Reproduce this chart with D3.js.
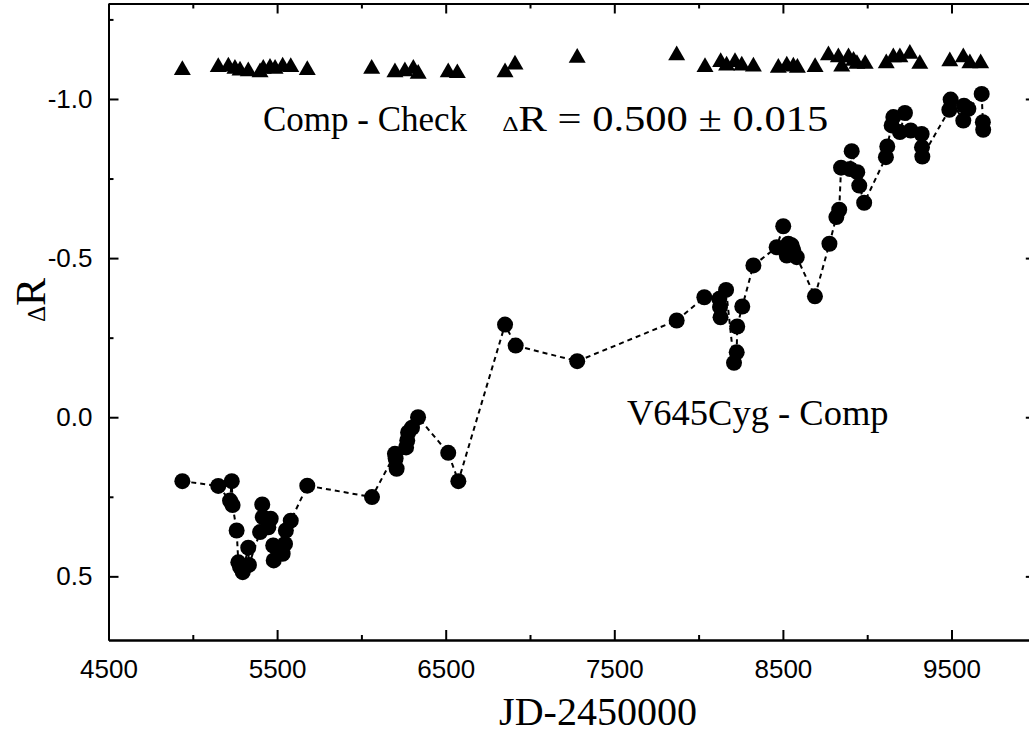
<!DOCTYPE html>
<html>
<head>
<meta charset="utf-8">
<script src="https://cdn.jsdelivr.net/npm/d3@7"></script>
<style>
  html, body { margin: 0; padding: 0; background: #fff; }
  svg { display: block; }
</style>
</head>
<body>
<svg id="chart" width="1029" height="733"></svg>
<script>
// V645 Cyg minus comparison star (circles, joined by a dashed line)
const targetJD = [4938, 5151, 5221, 5231, 5236, 5260, 5270, 5280, 5296, 5329, 5333, 5399, 5412, 5415,
  5448, 5462, 5477, 5480, 5533, 5547, 5552, 5581, 5679, 6063, 6199, 6203, 6209, 6265, 6272, 6277,
  6300, 6336, 6515, 6575, 6852, 6915, 7280, 7870, 8034, 8123, 8127, 8130, 8163, 8210, 8226, 8229,
  8259, 8325, 8463, 8502, 8523, 8532, 8552, 8562, 8582, 8690, 8776, 8817, 8834, 8845, 8898, 8908,
  8941, 8953, 8982, 9111, 9119, 9145, 9155, 9194, 9224, 9258, 9323, 9325, 9327, 9487, 9495, 9570,
  9574, 9600, 9679, 9686, 9688];
const targetDR = [0.201, 0.216, 0.262, 0.201, 0.276, 0.356, 0.456, 0.470, 0.487, 0.410, 0.464, 0.361,
  0.274, 0.314, 0.346, 0.319, 0.403, 0.450, 0.429, 0.398, 0.356, 0.325, 0.215, 0.251, 0.115, 0.130,
  0.162, 0.095, 0.073, 0.048, 0.033, 0.000, 0.112, 0.201, -0.291, -0.225, -0.176, -0.304, -0.377,
  -0.372, -0.346, -0.314, -0.400, -0.171, -0.204, -0.285, -0.348, -0.477, -0.534, -0.600, -0.508,
  -0.545, -0.540, -0.524, -0.503, -0.380, -0.545, -0.629, -0.652, -0.784, -0.780, -0.836, -0.770,
  -0.728, -0.674, -0.817, -0.851, -0.917, -0.943, -0.896, -0.956, -0.901, -0.890, -0.848, -0.819,
  -0.966, -0.998, -0.932, -0.979, -0.969, -1.016, -0.927, -0.903];

// Comparison minus check star (triangles)
const checkJD = [4938, 5151, 5211, 5250, 5280, 5329, 5399, 5418, 5458, 5488, 5533, 5581, 5679, 6061,
  6199, 6258, 6308, 6337, 6515, 6569, 6852, 6911, 7280, 7870, 8038, 8131, 8166, 8216, 8256, 8325,
  8473, 8523, 8562, 8586, 8691, 8770, 8829, 8849, 8889, 8919, 8939, 8988, 9113, 9155, 9194, 9253,
  9312, 9490, 9570, 9609, 9673];
const checkDR = [-1.091, -1.100, -1.102, -1.095, -1.089, -1.087, -1.084, -1.095, -1.098, -1.095,
  -1.102, -1.100, -1.091, -1.095, -1.084, -1.087, -1.095, -1.079, -1.084, -1.081, -1.084, -1.108,
  -1.129, -1.137, -1.100, -1.116, -1.105, -1.116, -1.105, -1.102, -1.098, -1.105, -1.102, -1.098,
  -1.100, -1.137, -1.131, -1.102, -1.131, -1.120, -1.110, -1.110, -1.112, -1.131, -1.131, -1.142,
  -1.110, -1.118, -1.131, -1.112, -1.112];

const xMajorTicks = [4500, 5500, 6500, 7500, 8500, 9500];
const xMinorTicks = [5000, 6000, 7000, 8000, 9000, 10000];
const yMajorTicks = [-1.0, -0.5, 0.0, 0.5];
const yMinorTicks = [-1.25, -0.75, -0.25, 0.25];
const yTickLabels = ["-1.0", "-0.5", "0.0", "0.5"];

const margin = { left: 108.5, top: 3.5 };
const plotW = 927.3, plotH = 636.5;

const svg = d3.select("#chart");
const g = svg.append("g").attr("transform", `translate(${margin.left},${margin.top})`);

const x = d3.scaleLinear().domain([4500, 10000]).range([0, plotW]);
const y = d3.scaleLinear().domain([-1.3, 0.7]).range([0, plotH]);

const sans = "'Liberation Sans', Arial, Helvetica, sans-serif";
const serif = "'Liberation Serif', 'Times New Roman', Times, serif";

function styleAxis(sel) {
  sel.select(".domain").attr("stroke", "#000").attr("stroke-width", 2);
  sel.selectAll(".tick line").attr("stroke", "#000").attr("stroke-width", 2);
  sel.selectAll(".tick text").attr("fill", "#000").attr("font-family", sans).attr("font-size", 26);
}

// bottom axis (labelled) with inward ticks
g.append("g").attr("transform", `translate(0,${plotH})`)
  .call(d3.axisBottom(x).tickValues(xMajorTicks).tickSize(-10).tickPadding(20).tickSizeOuter(0)
    .tickFormat(d3.format("d")))
  .call(styleAxis);
g.append("g").attr("transform", `translate(0,${plotH})`)
  .call(d3.axisBottom(x).tickValues(xMinorTicks).tickSize(-5).tickFormat("").tickSizeOuter(0))
  .call(styleAxis);
// top axis, ticks only
g.append("g")
  .call(d3.axisTop(x).tickValues(xMajorTicks).tickSize(-10).tickFormat("").tickSizeOuter(0))
  .call(styleAxis);
g.append("g")
  .call(d3.axisTop(x).tickValues(xMinorTicks).tickSize(-5).tickFormat("").tickSizeOuter(0))
  .call(styleAxis);
// left axis (labelled)
g.append("g")
  .call(d3.axisLeft(y).tickValues(yMajorTicks).tickSize(-10).tickPadding(16).tickSizeOuter(0)
    .tickFormat((d, i) => yTickLabels[i]))
  .call(styleAxis);
g.append("g")
  .call(d3.axisLeft(y).tickValues(yMinorTicks).tickSize(-5).tickFormat("").tickSizeOuter(0))
  .call(styleAxis);
// right axis, ticks only
g.append("g").attr("transform", `translate(${plotW},0)`)
  .call(d3.axisRight(y).tickValues(yMajorTicks).tickSize(-10).tickFormat("").tickSizeOuter(0))
  .call(styleAxis);
g.append("g").attr("transform", `translate(${plotW},0)`)
  .call(d3.axisRight(y).tickValues(yMinorTicks).tickSize(-5).tickFormat("").tickSizeOuter(0))
  .call(styleAxis);

// dashed line through the target measurements
const target = targetJD.map((d, i) => ({ jd: d, dr: targetDR[i] }));
const line = d3.line().x(d => x(d.jd)).y(d => y(d.dr));
g.append("path").datum(target)
  .attr("d", line)
  .attr("fill", "none").attr("stroke", "#000").attr("stroke-width", 2)
  .attr("stroke-dasharray", "5,4");

g.append("g").selectAll("circle").data(target).join("circle")
  .attr("cx", d => x(d.jd)).attr("cy", d => y(d.dr)).attr("r", 8).attr("fill", "#000");

const check = checkJD.map((d, i) => ({ jd: d, dr: checkDR[i] }));
const tri = d3.symbol().type(d3.symbolTriangle).size(125);
g.append("g").selectAll("path").data(check).join("path")
  .attr("d", tri)
  .attr("transform", d => `translate(${x(d.jd)},${y(d.dr)})`)
  .attr("fill", "#000");

// annotations
g.append("text").attr("x", x(5416)).attr("y", y(-0.898))
  .attr("font-family", serif).attr("font-size", 35).attr("fill", "#000")
  .text("Comp - Check");

const stat = g.append("text").attr("x", x(6835)).attr("y", y(-0.898))
  .attr("font-family", serif).attr("font-size", 35).attr("fill", "#000")
  .attr("textLength", 326).attr("lengthAdjust", "spacingAndGlyphs");
stat.append("tspan").attr("font-size", 21).text("\u0394");
stat.append("tspan").text("R = 0.500 \u00B1 0.015");

g.append("text").attr("x", x(7575)).attr("y", y(0.025))
  .attr("font-family", serif).attr("font-size", 36.5).attr("fill", "#000")
  .text("V645Cyg - Comp");

// axis titles
svg.append("text").attr("x", 598).attr("y", 725)
  .attr("text-anchor", "middle")
  .attr("font-family", serif).attr("font-size", 40).attr("fill", "#000")
  .text("JD-2450000");

const yt = svg.append("text")
  .attr("transform", "translate(45,300) rotate(-90)")
  .attr("text-anchor", "middle")
  .attr("font-family", serif).attr("font-size", 42).attr("fill", "#000");
yt.append("tspan").attr("font-size", 25).text("\u0394");
yt.append("tspan").text("R");
</script>
</body>
</html>
